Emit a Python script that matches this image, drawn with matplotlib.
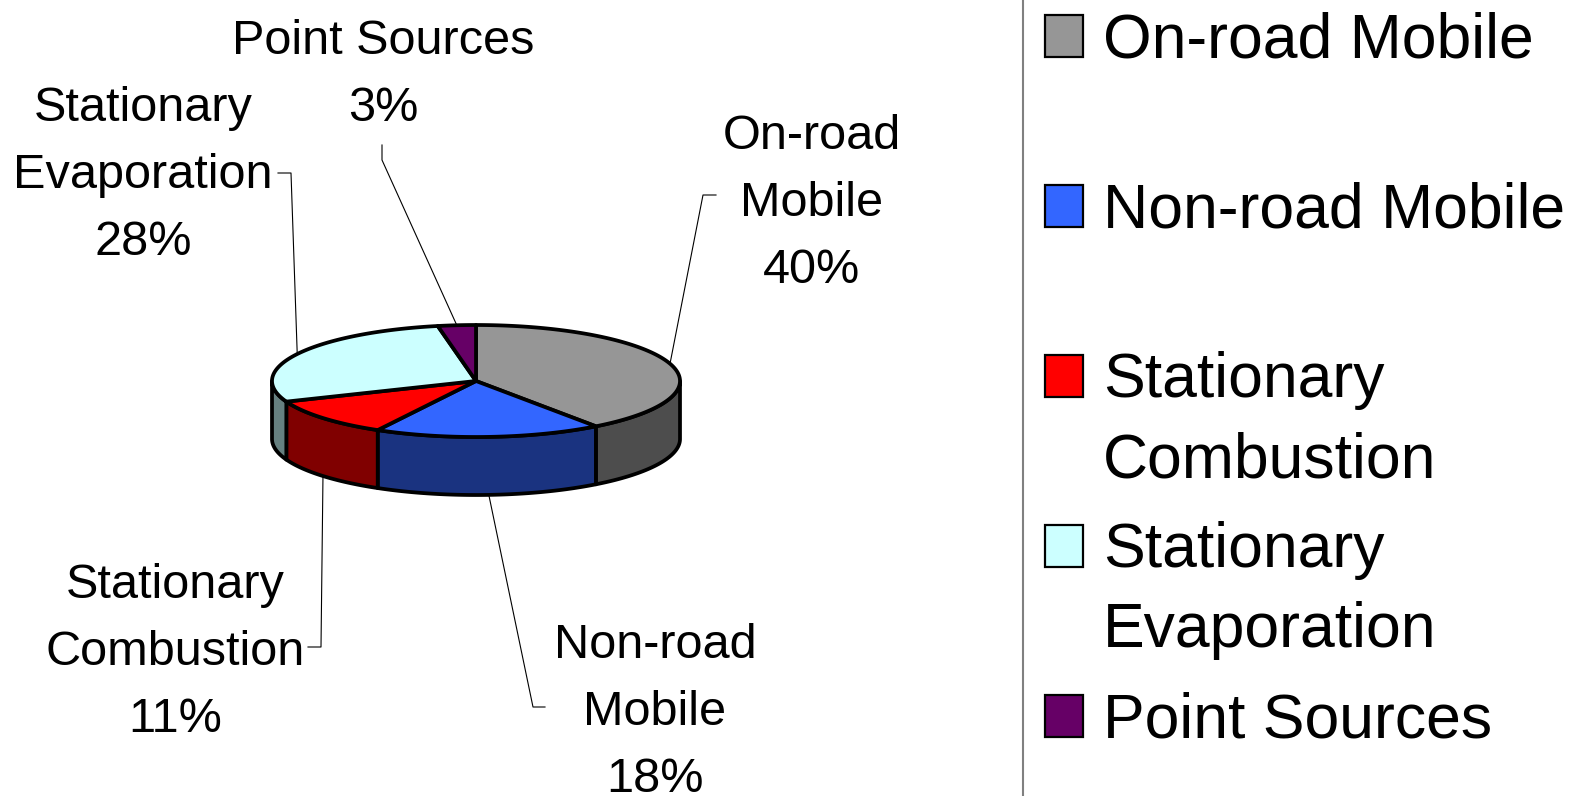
import numpy as np
import matplotlib.pyplot as plt
from matplotlib.patches import Polygon, Rectangle

plt.rcParams['font.family'] = ['Liberation Sans', 'DejaVu Sans']

# data
categories = ['On-road Mobile', 'Non-road Mobile', 'Stationary Combustion',
              'Stationary Evaporation', 'Point Sources']
shares = [40, 18, 11, 28, 3]
slice_labels = [['On-road', 'Mobile'], ['Non-road', 'Mobile'],
                ['Stationary', 'Combustion'], ['Stationary', 'Evaporation'],
                ['Point Sources']]
legend_labels = [['On-road Mobile'], ['Non-road Mobile'],
                 ['Stationary', 'Combustion'], ['Stationary', 'Evaporation'],
                 ['Point Sources']]
top_colors = ['#969696', '#3366FF', '#FF0000', '#CCFFFF', '#660066']
side_colors = ['#4D4D4D', '#1A3380', '#800000', '#668080', '#330033']

# label placement (pixel space): centre x, first baseline, elbow of leader, tick end
label_x = [812, 655, 175, 143, 383]
label_base = [149, 658, 598, 121, 54]
elbows = [(703, 195), (533, 707), (321, 647), (291, 173), (382, 160)]
ticks = [(716, 195), (545, 707), (308, 647), (278, 173), (382, 145)]

W, H = 1571, 796
fig = plt.figure(figsize=(W / 100, H / 100), dpi=100)
ax = fig.add_axes([0, 0, 1, 1])
ax.set_xlim(0, W)
ax.set_ylim(H, 0)
ax.axis('off')

# pie geometry
cx, cy, rx, ry, depth = 476, 381, 204, 56, 58


def ell(t, dy=0):
    return cx + rx * np.cos(t), cy - ry * np.sin(t) + dy


frac = np.array(shares) / sum(shares)
cum = np.concatenate([[0], np.cumsum(frac)])
a_start = np.radians(90 - 360 * cum[:-1])
a_end = np.radians(90 - 360 * cum[1:])

# side walls (front half only)
for i in range(len(shares)):
    lo = max(a_end[i], -np.pi)
    hi = min(a_start[i], 0)
    if hi <= lo:
        continue
    t = np.linspace(lo, hi, 80)
    xt, yt = ell(t)
    xb, yb = ell(t[::-1], depth)
    pts = np.column_stack([np.concatenate([xt, xb]), np.concatenate([yt, yb])])
    ax.add_patch(Polygon(pts, closed=True, facecolor=side_colors[i],
                         edgecolor='black', lw=2.7, joinstyle='round'))

# top faces
for i in range(len(shares)):
    t = np.linspace(a_start[i], a_end[i], 120)
    xs, ys = ell(t)
    pts = np.column_stack([np.concatenate([[cx], xs]), np.concatenate([[cy], ys])])
    ax.add_patch(Polygon(pts, closed=True, facecolor=top_colors[i],
                         edgecolor='black', lw=2.7, joinstyle='round'))

# data labels with leader lines
pitch = 67
for i in range(len(shares)):
    mid = (a_start[i] + a_end[i]) / 2
    if np.sin(mid) < 0:
        px, py = ell(mid, depth)
    else:
        px, py = ell(mid)
    ex, ey = elbows[i]
    tx, ty = ticks[i]
    ax.plot([px, ex, tx], [py, ey, ty], color='black', lw=0.8)
    lines = slice_labels[i] + [f'{shares[i]}%']
    for k, s in enumerate(lines):
        ax.text(label_x[i], label_base[i] + k * pitch, s, fontsize=35,
                ha='center', va='baseline')

# legend
ax.plot([1023, 1023], [0, H], color='#808080', lw=1.5)
leg_base = [57, 227, 397, 567, 737]
for i in range(len(categories)):
    b = leg_base[i]
    ax.add_patch(Rectangle((1045, b - 42), 38, 42, facecolor=top_colors[i],
                           edgecolor='black', lw=1.6))
    for k, s in enumerate(legend_labels[i]):
        ax.text(1103, b + k * 80, s, fontsize=45, ha='left', va='baseline')

fig.savefig('out.png', dpi=100)
